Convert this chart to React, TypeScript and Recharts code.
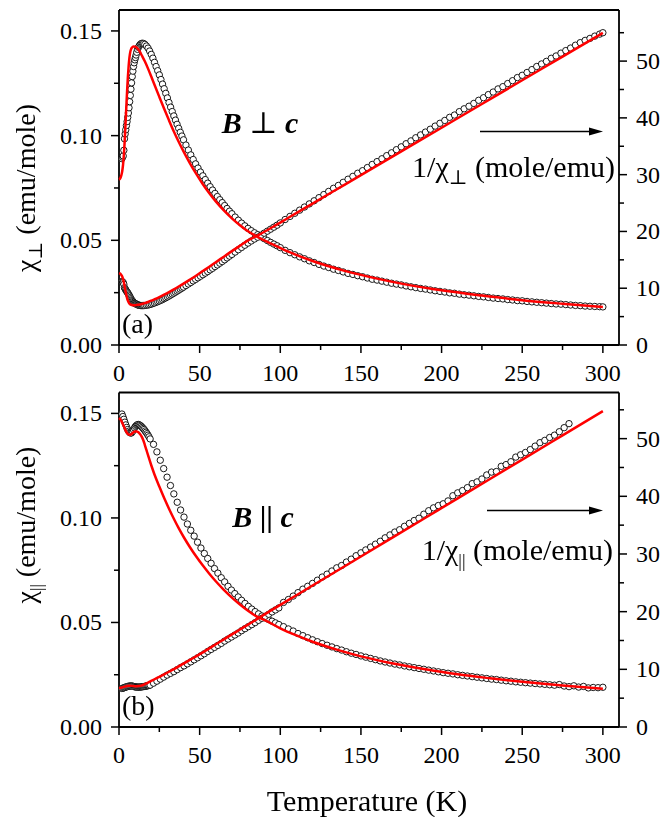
import React from "react";
import { ComposedChart, Scatter, Line, XAxis, YAxis } from "recharts";

const FONT = "Liberation Serif, Times New Roman, DejaVu Serif, serif";

// ---- panel (a): B perpendicular to c ----
const perpT = [
  1.8, 2.2, 2.6, 3.0, 3.4, 3.8, 4.2, 4.6, 5.0, 5.4, 5.8, 6.2, 6.6, 7.0, 7.4, 7.8, 8.2, 8.6, 9.0, 9.4,
  9.8, 10.2, 10.6, 11.0, 11.5, 12.0, 12.6, 13.2, 13.8, 14.5, 15.2,
  16, 17, 18, 19, 20, 21, 22, 23, 24, 25, 26, 27, 28, 29, 30, 31, 32, 33, 34, 35, 36, 37, 38, 39, 40,
  41.5, 43, 44.5, 46, 47.5, 49, 50.5, 52, 53.5, 55, 56.5, 58, 59.5, 61, 62.5, 64, 65.5, 67, 68.5, 70,
  72, 74, 76, 78, 80, 82, 84, 86, 88, 90, 92, 94, 96, 98, 100,
  103, 106, 109, 112, 115, 118, 121, 124, 127, 130, 133, 136, 139, 142, 145, 148, 151, 154, 157, 160,
  163, 166, 169, 172, 175, 178, 181, 184, 187, 190, 193, 196, 199, 202, 205, 208, 211, 214, 217, 220,
  223, 226, 229, 232, 235, 238, 241, 244, 247, 250, 253, 256, 259, 262, 265, 268, 271, 274, 277, 280,
  283, 286, 289, 292, 295, 298, 300,
];
const perpChi = [
  0.089, 0.0897, 0.0903, 0.093, 0.0985, 0.1008, 0.1028, 0.1048, 0.1067, 0.1087, 0.1108, 0.1133, 0.1162,
  0.1192, 0.1222, 0.1252, 0.1282, 0.1308, 0.133, 0.1348, 0.1362, 0.1373, 0.1385, 0.1398, 0.1412, 0.1422,
  0.143, 0.1436, 0.144, 0.1441, 0.144,
  0.1436, 0.1428, 0.1418, 0.1404, 0.1388, 0.137, 0.135, 0.133, 0.131, 0.129, 0.1268, 0.1246, 0.1224,
  0.1202, 0.118, 0.1158, 0.1136, 0.1115, 0.1094, 0.1074, 0.1054, 0.1035, 0.1016, 0.0998, 0.098,
  0.0955, 0.0931, 0.0908, 0.0886, 0.0865, 0.0845, 0.0826, 0.0808, 0.079, 0.0773, 0.0756, 0.074, 0.0724,
  0.0709, 0.0694, 0.068, 0.0666, 0.0652, 0.0639, 0.0627,
  0.0611, 0.0596, 0.0582, 0.0569, 0.0557, 0.0546, 0.0536, 0.0527, 0.0517, 0.0508, 0.0499, 0.049, 0.0482,
  0.0474, 0.0465,
  0.0452, 0.0441, 0.0431, 0.0421, 0.0412, 0.0402, 0.0394, 0.0385, 0.0377, 0.037, 0.0362, 0.0356, 0.0349,
  0.0342, 0.0337, 0.0331, 0.0326, 0.032, 0.0314, 0.031, 0.0305, 0.03, 0.0295, 0.0291, 0.0287, 0.0282,
  0.0278, 0.0274, 0.027, 0.0267, 0.0263, 0.0259, 0.0256, 0.0253, 0.0249, 0.0247, 0.0243, 0.024, 0.0238,
  0.0235, 0.0232, 0.023, 0.0227, 0.0224, 0.0222, 0.022, 0.0217, 0.0215, 0.0212, 0.0211, 0.0208, 0.0206,
  0.0204, 0.0202, 0.02, 0.0198, 0.0196, 0.0195, 0.0193, 0.0191, 0.0189, 0.0188, 0.0186, 0.0185, 0.0184,
  0.0183, 0.0182,
];
const perpInv = [
  11.2, 11.1, 11.0, 10.7, 10.1, 9.9, 9.7, 9.5, 9.35, 9.2, 9.0, 8.8, 8.6, 8.35, 8.15, 7.95, 7.8, 7.65, 7.5,
  7.4, 7.33, 7.28, 7.22, 7.15, 7.08, 7.03, 6.99, 6.96, 6.94, 6.94, 6.95,
  6.96, 7.0, 7.05, 7.12, 7.2, 7.3, 7.4, 7.52, 7.63, 7.75, 7.88, 8.02, 8.17, 8.32, 8.47, 8.63, 8.8, 8.97,
  9.14, 9.31, 9.49, 9.66, 9.84, 10.02, 10.2,
  10.47, 10.74, 11.01, 11.29, 11.56, 11.83, 12.11, 12.38, 12.66, 12.94, 13.23, 13.51, 13.81, 14.1, 14.41,
  14.7, 15.01, 15.34, 15.65, 15.95,
  16.37, 16.78, 17.18, 17.57, 17.95, 18.32, 18.66, 18.98, 19.32, 19.7, 20.05, 20.4, 20.75, 21.1, 21.5,
  22.1, 22.65, 23.2, 23.75, 24.3, 24.85, 25.4, 25.95, 26.5, 27.05, 27.6, 28.1, 28.65, 29.2, 29.7, 30.25,
  30.7, 31.25, 31.8, 32.3, 32.8, 33.35, 33.85, 34.4, 34.9, 35.45, 35.95, 36.5, 37.0, 37.5, 38.0, 38.55,
  39.05, 39.55, 40.1, 40.5, 41.1, 41.6, 42.05, 42.55, 43.1, 43.55, 44.1, 44.55, 45.1, 45.5, 46.05, 46.55,
  47.1, 47.5, 48.0, 48.5, 49.05, 49.5, 49.95, 50.5, 50.9, 51.4, 51.85, 52.3, 52.8, 53.25, 53.65, 54.0,
  54.4, 54.75, 55.0,
];
const perpFitT = [
  0, 0.5, 1, 1.5, 2, 2.5, 3, 3.5, 4, 4.5, 5, 5.5, 6, 6.5, 7, 7.5, 8, 9, 10, 11, 12, 13, 14, 16, 18, 20,
  22, 25, 28, 31, 34, 37, 40, 44, 48, 52, 56, 60, 65, 70, 75, 80, 87, 95, 105, 120, 140, 160, 180, 200,
  225, 250, 275, 300,
];
const perpFitChi = [
  0.079, 0.0793, 0.08, 0.0812, 0.083, 0.086, 0.0905, 0.097, 0.105, 0.113, 0.121, 0.128, 0.1335, 0.1375,
  0.14, 0.1413, 0.142, 0.1426, 0.1425, 0.142, 0.1411, 0.14, 0.1385, 0.1355, 0.132, 0.1282, 0.1243, 0.1185,
  0.1128, 0.1073, 0.102, 0.0971, 0.0925, 0.0868, 0.0816, 0.0768, 0.0725, 0.0686, 0.0643, 0.0605, 0.0572,
  0.0543, 0.0512, 0.0482, 0.0446, 0.0401, 0.0354, 0.0317, 0.0286, 0.0261, 0.0236, 0.0214, 0.0197, 0.0182,
];
const perpFitInv = [
  12.66, 12.61, 12.5, 12.32, 12.05, 11.63, 11.05, 10.31, 9.52, 8.85, 8.26, 7.81, 7.49, 7.27, 7.14, 7.08,
  7.04, 7.01, 7.02, 7.04, 7.09, 7.14, 7.22, 7.38, 7.58, 7.8, 8.05, 8.44, 8.87, 9.32, 9.8, 10.3, 10.81,
  11.52, 12.25, 13.02, 13.79, 14.58, 15.55, 16.53, 17.48, 18.42, 19.45, 20.74, 22.41, 24.91, 28.25, 31.59,
  34.93, 38.27, 42.45, 46.62, 50.8, 54.97,
];

// ---- panel (b): B parallel to c ----
const parT = [
  1.8, 2.4, 3.0, 3.6, 4.2, 4.8, 5.4, 6.0, 6.6, 7.2, 7.8, 8.4, 9.0, 9.6, 10.2, 10.8, 11.4, 12.0, 12.6,
  13.2, 13.8, 14.4, 15.0, 15.6, 16.2, 16.8, 17.4, 18.0, 18.6, 19.3,
  21.4, 23.5, 25.6, 27.7, 29.8, 31.9, 34.0, 36.1, 38.2, 40.3, 42.4, 44.5, 46.6, 48.7, 50.8, 52.9, 55.0,
  57.1, 59.2, 61.3, 63.4, 65.5, 67.6, 69.7, 71.8, 73.9, 76.0, 78.1, 80.2, 82.3, 84.4, 86.5, 88.6, 90.7,
  92.8, 94.9, 97.0, 99.1,
  102, 105, 108, 111, 114, 117, 120, 123, 126, 129, 132, 135, 138, 141, 144, 147, 150, 153, 156, 159,
  162, 165, 168, 171, 174, 177, 180, 183, 186, 189, 192, 195, 198, 201, 204, 207, 210, 213, 216, 219,
  222, 225, 228, 231, 234, 237, 240, 243, 246, 249, 252, 255, 258, 261, 264, 267, 270, 273, 276, 279,
  282, 285, 288, 291, 294, 297, 300,
];
const parChi = [
  0.1497, 0.1485, 0.1472, 0.1458, 0.1445, 0.1433, 0.1423, 0.1415, 0.1409, 0.1406, 0.1407, 0.1413, 0.1422,
  0.1431, 0.1438, 0.1443, 0.1446, 0.1447, 0.1445, 0.1442, 0.1438, 0.1433, 0.1428, 0.1423, 0.1416, 0.141,
  0.1403, 0.1396, 0.1388, 0.1378,
  0.1352, 0.1316, 0.1276, 0.1236, 0.1195, 0.1155, 0.1115, 0.1075, 0.1038, 0.1004, 0.0971, 0.0941, 0.0913,
  0.0884, 0.0856, 0.083, 0.0806, 0.0783, 0.0758, 0.0736, 0.0714, 0.0694, 0.0673, 0.0655, 0.0638, 0.0622,
  0.0606, 0.0591, 0.0577, 0.0564, 0.0552, 0.0541, 0.0531, 0.0522, 0.0514, 0.0506, 0.0498, 0.049,
  0.048, 0.0469, 0.0459, 0.0447, 0.0437, 0.0427, 0.0417, 0.0408, 0.0399, 0.0391, 0.0383, 0.0375, 0.0368,
  0.036, 0.0353, 0.0347, 0.034, 0.0334, 0.0328, 0.0322, 0.0316, 0.0311, 0.0306, 0.0301, 0.0297, 0.0292,
  0.0288, 0.0284, 0.028, 0.0276, 0.0272, 0.0268, 0.0264, 0.026, 0.0257, 0.0254, 0.025, 0.0247, 0.0244,
  0.0241, 0.0238, 0.0235, 0.0232, 0.0229, 0.0227, 0.0224, 0.0221, 0.0219, 0.0216, 0.0214, 0.0212, 0.021,
  0.0208, 0.0206, 0.0204, 0.0202, 0.02, 0.0203, 0.0196, 0.0193, 0.0197, 0.0191, 0.0194, 0.0187, 0.0189,
  0.0188, 0.019,
];
// inverse data stops near 280 K
const parInv = [
  6.68, 6.73, 6.79, 6.86, 6.92, 6.98, 7.03, 7.07, 7.1, 7.11, 7.11, 7.08, 7.03, 6.99, 6.95, 6.93, 6.92,
  6.91, 6.92, 6.93, 6.95, 6.98, 7.0, 7.03, 7.06, 7.09, 7.13, 7.16, 7.2, 7.26,
  7.6, 7.95, 8.3, 8.65, 9.0, 9.3, 9.6, 9.95, 10.3, 10.6, 10.95, 11.3, 11.65, 12.0, 12.35, 12.7, 13.1,
  13.45, 13.8, 14.15, 14.5, 14.9, 15.25, 15.6, 15.95, 16.3, 16.7, 17.05, 17.4, 17.75, 18.1, 18.5, 18.85,
  19.2, 19.55, 19.95, 20.3, 20.65,
  21.6, 22.1, 22.7, 23.3, 23.9, 24.4, 24.9, 25.45, 26.0, 26.5, 27.05, 27.6, 28.0, 28.6, 29.1, 29.7, 30.2,
  30.7, 31.2, 31.7, 32.2, 32.8, 33.3, 33.8, 34.2, 34.8, 35.3, 35.8, 36.2, 36.9, 37.5, 38.0, 38.4, 38.7,
  39.2, 40.1, 40.6, 41.0, 41.5, 42.2, 42.5, 43.0, 43.7, 44.2, 44.3, 45.2, 45.5, 46.0, 46.8, 47.2, 47.6,
  48.1, 48.7, 49.3, 49.7, 50.2, 50.6, 51.2, 51.9, 52.6,
];
const parFitT = [
  0, 1, 2, 3, 4, 5, 6, 7, 8, 9, 10, 11, 12, 13, 14, 15, 16, 17, 18, 20, 22, 25, 28, 31, 34, 37, 40, 44,
  48, 52, 56, 60, 65, 70, 75, 80, 85, 91, 100, 110, 120, 135, 150, 170, 190, 210, 230, 250, 275, 300,
];
const parFitChi = [
  0.1478, 0.147, 0.1455, 0.1438, 0.142, 0.1406, 0.1399, 0.1398, 0.1403, 0.141, 0.1414, 0.1414, 0.141,
  0.1402, 0.139, 0.1373, 0.135, 0.1325, 0.13, 0.1252, 0.1208, 0.115, 0.1095, 0.1044, 0.0996, 0.0951,
  0.091, 0.086, 0.0814, 0.0772, 0.0733, 0.0697, 0.0656, 0.0619, 0.0586, 0.0556, 0.053, 0.0509, 0.0472,
  0.0438, 0.0408, 0.037, 0.0338, 0.0304, 0.0276, 0.0252, 0.0233, 0.0216, 0.0198, 0.0183,
];
const parFitInv = [
  6.77, 6.8, 6.87, 6.95, 7.04, 7.11, 7.15, 7.15, 7.13, 7.09, 7.07, 7.07, 7.09, 7.13, 7.19, 7.28, 7.41,
  7.55, 7.69, 7.99, 8.28, 8.7, 9.13, 9.58, 10.04, 10.52, 10.99, 11.63, 12.29, 12.95, 13.64, 14.35, 15.2,
  16.05, 16.9, 17.75, 18.6, 19.66, 21.17, 22.85, 24.53, 27.05, 29.57, 32.93, 36.29, 39.65, 43.0, 46.37,
  50.57, 54.77,
];

const xTicks = [0, 25, 50, 75, 100, 125, 150, 175, 200, 225, 250, 275, 300];
const chiTicks = [0, 0.025, 0.05, 0.075, 0.1, 0.125, 0.15];
const invTicks = [0, 5, 10, 15, 20, 25, 30, 35, 40, 45, 50, 55];

const rows = (ts: number[], vs: number[], key: string) =>
  vs.map((v, i) => ({ t: ts[i], [key]: v }));

const AXIS = { stroke: "#000", strokeWidth: 1.8 };
const TICK_W = 1.5;
const LEFT_W = 119;
const RIGHT_W = 44;

function BottomTick({ x, y, payload }: any) {
  const major = payload.value % 50 === 0;
  return (
    <g>
      <line x1={x} x2={x} y1={y} y2={y + (major ? 8 : 5)} stroke="#000" strokeWidth={TICK_W} />
      {major && (
        <text x={x} y={y + 36} textAnchor="middle" fontFamily={FONT} fontSize={24} fill="#000">
          {payload.value}
        </text>
      )}
    </g>
  );
}

function TopTick({ x, y, payload }: any) {
  const major = payload.value % 50 === 0;
  return <line x1={x} x2={x} y1={y} y2={y + (major ? 8 : 5)} stroke="#000" strokeWidth={TICK_W} />;
}

function LeftTick({ x, y, payload }: any) {
  const v = payload.value as number;
  const major = Math.abs(v * 20 - Math.round(v * 20)) < 1e-6;
  return (
    <g>
      <line x1={x - (major ? 8 : 5)} x2={x} y1={y} y2={y} stroke="#000" strokeWidth={TICK_W} />
      {major && (
        <text x={x - 17} y={y + 8} textAnchor="end" fontFamily={FONT} fontSize={24} fill="#000">
          {v.toFixed(2)}
        </text>
      )}
    </g>
  );
}

function RightTick({ x, y, payload }: any) {
  const v = payload.value as number;
  const major = v % 10 === 0;
  return (
    <g>
      <line x1={x} x2={x + (major ? 8 : 5)} y1={y} y2={y} stroke="#000" strokeWidth={TICK_W} />
      {major && (
        <text x={x + 17} y={y + 8} textAnchor="start" fontFamily={FONT} fontSize={24} fill="#000">
          {v}
        </text>
      )}
    </g>
  );
}

const ring = (p: any) => (
  <circle cx={p.cx} cy={p.cy} r={3.2} fill="#fff" stroke="#000" strokeWidth={0.9} />
);

interface PanelProps {
  chi: any[];
  inv: any[];
  fitChi: any[];
  fitInv: any[];
  height: number;
  top: number;
  axisH: number;
  invMax: number;
}

// axes + measured points; the fit curves sit in a second chart on top with the same plot box
function Panel({ chi, inv, fitChi, fitInv, height, top, axisH, invMax }: PanelProps) {
  return (
    <div style={{ position: "relative", width: 663, height }}>
      <div style={{ position: "absolute", left: 0, top: 0 }}>
        <ComposedChart width={663} height={height} margin={{ top, right: 0, bottom: 0, left: 0 }}>
          <XAxis
            xAxisId="b"
            dataKey="t"
            type="number"
            domain={[0, 310]}
            ticks={xTicks}
            interval={0}
            height={axisH}
            tickSize={0}
            tickMargin={0}
            tickLine={false}
            tick={(p: any) => <BottomTick {...p} />}
            axisLine={AXIS}
          />
          <XAxis
            xAxisId="top"
            orientation="top"
            dataKey="t"
            type="number"
            domain={[0, 310]}
            ticks={xTicks}
            interval={0}
            height={1}
            tickSize={0}
            tickMargin={0}
            tickLine={false}
            tick={(p: any) => <TopTick {...p} />}
            axisLine={AXIS}
          />
          <YAxis
            yAxisId="chi"
            type="number"
            domain={[0, 0.16]}
            ticks={chiTicks}
            interval={0}
            width={LEFT_W}
            tickSize={0}
            tickMargin={0}
            tickLine={false}
            tick={(p: any) => <LeftTick {...p} />}
            axisLine={AXIS}
          />
          <YAxis
            yAxisId="inv"
            orientation="right"
            type="number"
            domain={[0, invMax]}
            ticks={invTicks}
            interval={0}
            width={RIGHT_W}
            tickSize={0}
            tickMargin={0}
            tickLine={false}
            tick={(p: any) => <RightTick {...p} />}
            axisLine={AXIS}
          />
          <Scatter xAxisId="b" yAxisId="chi" data={chi} dataKey="chi" shape={ring} isAnimationActive={false} />
          <Scatter xAxisId="b" yAxisId="inv" data={inv} dataKey="inv" shape={ring} isAnimationActive={false} />
        </ComposedChart>
      </div>
      <div style={{ position: "absolute", left: 0, top: 0 }}>
        <ComposedChart
          width={663}
          height={height}
          margin={{ top: top + 1, right: RIGHT_W, bottom: axisH, left: LEFT_W }}
        >
          <XAxis xAxisId="b" dataKey="t" type="number" domain={[0, 310]} hide />
          <YAxis yAxisId="chi" type="number" domain={[0, 0.16]} hide />
          <YAxis yAxisId="inv" orientation="right" type="number" domain={[0, invMax]} hide />
          <Line
            xAxisId="b"
            yAxisId="chi"
            data={fitChi}
            dataKey="chi"
            type="monotone"
            stroke="#ff0000"
            strokeWidth={2.5}
            dot={false}
            activeDot={false}
            isAnimationActive={false}
          />
          <Line
            xAxisId="b"
            yAxisId="inv"
            data={fitInv}
            dataKey="inv"
            type="monotone"
            stroke="#ff0000"
            strokeWidth={2.5}
            dot={false}
            activeDot={false}
            isAnimationActive={false}
          />
        </ComposedChart>
      </div>
    </div>
  );
}

const txt = { fontFamily: FONT, fill: "#000" };

export default function App() {
  return (
    <div style={{ position: "relative", width: 663, height: 817, background: "#fff", fontFamily: FONT }}>
      <style>{"body{margin:0}"}</style>
      <div style={{ position: "absolute", left: 0, top: 0 }}>
        <Panel
          chi={rows(perpT, perpChi, "chi")}
          inv={rows(perpT, perpInv, "inv")}
          fitChi={rows(perpFitT, perpFitChi, "chi")}
          fitInv={rows(perpFitT, perpFitInv, "inv")}
          height={395}
          top={9}
          axisH={50}
          invMax={59}
        />
      </div>
      <div style={{ position: "absolute", left: 0, top: 370 }}>
        <Panel
          chi={rows(parT, parChi, "chi")}
          inv={rows(parT, parInv, "inv")}
          fitChi={rows(parFitT, parFitChi, "chi")}
          fitInv={rows(parFitT, parFitInv, "inv")}
          height={447}
          top={21.5}
          axisH={90}
          invMax={58}
        />
      </div>
      <svg
        width={663}
        height={817}
        style={{ position: "absolute", left: 0, top: 0, pointerEvents: "none", willChange: "transform" }}
      >
        <text transform="translate(35,188) rotate(-90)" textAnchor="middle" fontSize={28} style={txt}>
          χ<tspan fontSize={19} dy={7}>⊥</tspan>
          <tspan dy={-7}> (emu/mole)</tspan>
        </text>
        <text transform="translate(35,525) rotate(-90)" textAnchor="middle" fontSize={28} style={txt}>
          χ<tspan fontSize={17} dy={7}>||</tspan>
          <tspan dy={-7}> (emu/mole)</tspan>
        </text>
        <text x={367} y={811} textAnchor="middle" fontSize={30} style={txt}>
          Temperature (K)
        </text>

        <text x={260} y={133} textAnchor="middle" fontSize={30} fontWeight="bold" fontStyle="italic" style={txt}>
          B <tspan fontWeight="normal" fontStyle="normal">⊥</tspan> c
        </text>
        <text x={263} y={527} textAnchor="middle" fontSize={30} fontWeight="bold" fontStyle="italic" style={txt}>
          B <tspan fontStyle="normal">||</tspan> c
        </text>

        <text x={122} y={333} fontSize={28} style={txt}>(a)</text>
        <text x={122} y={715} fontSize={28} style={txt}>(b)</text>

        <text x={615} y={177} textAnchor="end" fontSize={30} style={txt}>
          1/χ<tspan fontSize={20} dy={7}>⊥</tspan>
          <tspan dy={-7}> (mole/emu)</tspan>
        </text>
        <text x={613} y={560} textAnchor="end" fontSize={30} style={txt}>
          1/χ<tspan fontSize={18} dy={7}>||</tspan>
          <tspan dy={-7}> (mole/emu)</tspan>
        </text>

        <line x1={480} y1={131.5} x2={591} y2={131.5} stroke="#000" strokeWidth={1.3} />
        <polygon points="603,131.5 589,127.5 589,135.5" fill="#000" />
        <line x1={487} y1={510.5} x2={591} y2={510.5} stroke="#000" strokeWidth={1.3} />
        <polygon points="603,510.5 589,506.5 589,514.5" fill="#000" />
      </svg>
    </div>
  );
}
